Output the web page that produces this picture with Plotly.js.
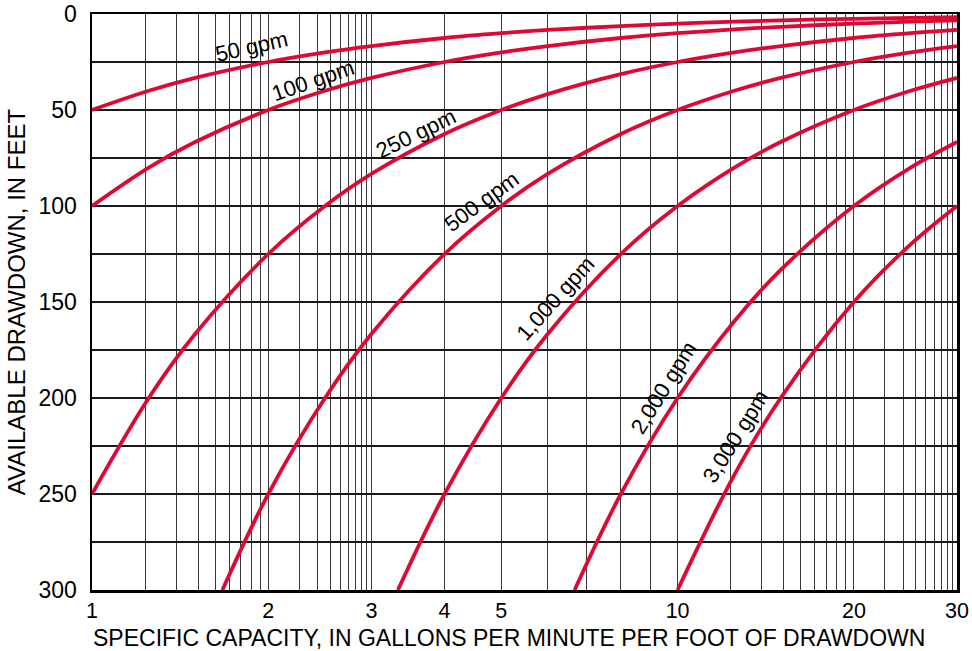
<!DOCTYPE html>
<html>
<head>
<meta charset="utf-8">
<script src="https://cdn.plot.ly/plotly-3.0.1.min.js"></script>
<style>html,body{margin:0;padding:0;background:#fff;}#chart{width:972px;height:651px;}</style>
</head>
<body>
<div id="chart"></div>
<script>
// ---- Data ----
const seriesNames = ["50 gpm", "100 gpm", "250 gpm", "500 gpm", "1,000 gpm", "2,000 gpm", "3,000 gpm"];

const x50 = [1, 1.25, 1.5, 2, 2.5, 3, 4, 5, 6, 8, 10, 12.5, 15, 20, 25, 30];
const y50 = [50, 40, 33.3, 25, 20, 16.7, 12.5, 10, 8.3, 6.3, 5, 4, 3.3, 2.5, 2, 1.7];

const x100 = [1, 1.25, 1.5, 2, 2.5, 3, 4, 5, 6, 8, 10, 12.5, 15, 20, 25, 30];
const y100 = [100, 80, 66.7, 50, 40, 33.3, 25, 20, 16.7, 12.5, 10, 8, 6.7, 5, 4, 3.3];

const x250 = [1, 1.25, 1.5, 2, 2.5, 3, 4, 5, 6, 8, 10, 12.5, 15, 20, 25, 30];
const y250 = [250, 200, 166.7, 125, 100, 83.3, 62.5, 50, 41.7, 31.3, 25, 20, 16.7, 12.5, 10, 8.3];

const x500 = [1.67, 2, 2.5, 3, 4, 5, 6, 8, 10, 12.5, 15, 20, 25, 30];
const y500 = [300, 250, 200, 166.7, 125, 100, 83.3, 62.5, 50, 40, 33.3, 25, 20, 16.7];

const x1000 = [3.33, 4, 5, 6, 8, 10, 12.5, 15, 20, 25, 30];
const y1000 = [300, 250, 200, 166.7, 125, 100, 80, 66.7, 50, 40, 33.3];

const x2000 = [6.67, 8, 10, 12.5, 15, 20, 25, 30];
const y2000 = [300, 250, 200, 160, 133.3, 100, 80, 66.7];

const x3000 = [10, 12.5, 15, 20, 25, 30];
const y3000 = [300, 240, 200, 150, 120, 100];

const xTickLabels = [1, 2, 3, 4, 5, 10, 20, 30];
const yTickLabels = [0, 50, 100, 150, 200, 250, 300];

// ---- Grid (log-paper pattern) ----
const subDivided = [[1, 2], [2, 3], [10, 20], [20, 30]];
const plainLines = [3, 4, 5, 6, 7, 8, 9, 30];
let gridX = [];
subDivided.forEach(([a, b]) => {
  for (let k = 1; k <= 9; k++) gridX.push(a * Math.pow(b / a, Math.log10(k)));
});
gridX = gridX.concat(plainLines).sort((p, q) => p - q);
const gridXText = gridX.map(v => {
  const m = xTickLabels.find(t => Math.abs(t - v) < 1e-6);
  return m !== undefined ? String(m) : "";
});
const gridY = [];
for (let v = 0; v <= 300; v += 25) gridY.push(v);
const gridYText = gridY.map(v => yTickLabels.includes(v) ? String(v) : "");

const red = "#DE0834";
const xsAll = [x50, x100, x250, x500, x1000, x2000, x3000];
const ysAll = [y50, y100, y250, y500, y1000, y2000, y3000];
const traces = xsAll.map((xs, i) => ({
  x: xs, y: ysAll[i], name: seriesNames[i], type: "scatter", mode: "lines",
  line: {color: red, width: 3.8, shape: "spline", smoothing: 1},
  hoverinfo: "skip"
}));

const font = {family: "Liberation Sans, Arial, sans-serif", color: "#000"};
const f = s => Object.assign({size: s}, font);

const labels = [
  {t: "50 gpm", x: 0.1846, y: 0.9432, a: -13},
  {t: "100 gpm", x: 0.2552, y: 0.8854, a: -19},
  {t: "250 gpm", x: 0.3746, y: 0.7934, a: -26},
  {t: "500 gpm", x: 0.4505, y: 0.6741, a: -36},
  {t: "1,000 gpm", x: 0.5353, y: 0.5069, a: -48},
  {t: "2,000 gpm", x: 0.6613, y: 0.3507, a: -58},
  {t: "3,000 gpm", x: 0.7442, y: 0.2661, a: -58}
];

const layout = {
  width: 972, height: 651,
  margin: {l: 92, r: 15, t: 14, b: 61},
  paper_bgcolor: "#fff", plot_bgcolor: "#fff",
  showlegend: false,
  font: f(22),
  xaxis: {
    type: "log", range: [0, Math.log10(30)],
    tickvals: gridX, ticktext: gridXText,
    ticks: "", ticklabelstandoff: 0,
    showgrid: true, gridcolor: "#3a3a3a", gridwidth: 1,
    showline: true, linecolor: "#000", linewidth: 2.5, mirror: true,
    zeroline: false,
    tickfont: f(21.5),
    title: {text: ""}
  },
  yaxis: {
    range: [300, 0],
    tickvals: gridY, ticktext: gridYText,
    ticks: "", ticklabelstandoff: 8,
    showgrid: true, gridcolor: "#1a1a1a", gridwidth: 1.2,
    showline: true, linecolor: "#000", linewidth: 2.5, mirror: true,
    zeroline: false,
    tickfont: f(23),
    title: {text: "AVAILABLE DRAWDOWN, IN FEET", font: f(24), standoff: 6}
  },
  annotations: labels.map(l => ({
    text: l.t, x: l.x, y: l.y, xref: "paper", yref: "paper",
    showarrow: false, textangle: l.a, xanchor: "center", yanchor: "middle",
    font: f(22)
  })).concat([{
    text: "SPECIFIC CAPACITY, IN GALLONS PER MINUTE PER FOOT OF DRAWDOWN",
    xref: "paper", yref: "paper", x: -0.001, y: -0.083,
    xanchor: "left", yanchor: "middle", showarrow: false, font: f(23)
  }])
};

Plotly.newPlot("chart", traces, layout, {displayModeBar: false, staticPlot: true});
</script>
</body>
</html>
